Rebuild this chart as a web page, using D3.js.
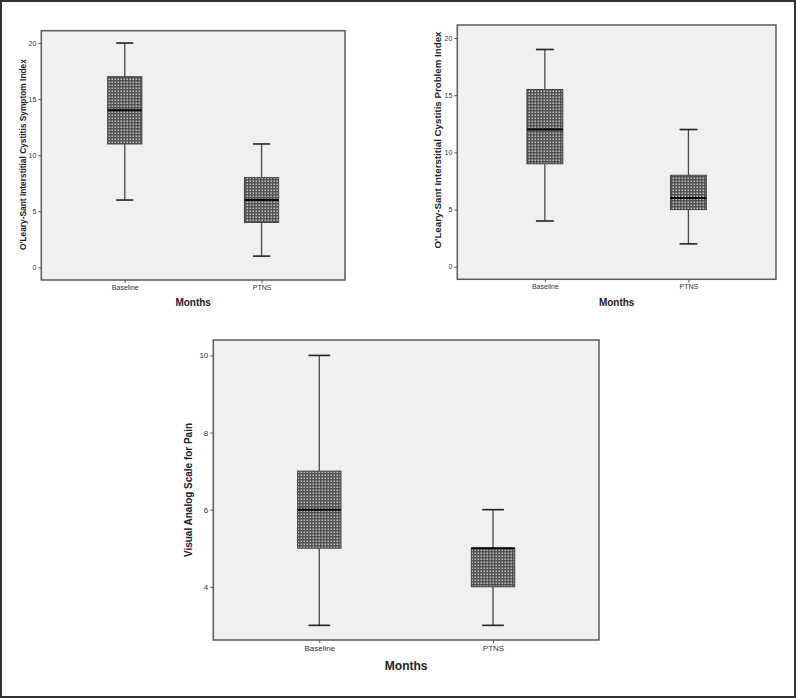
<!DOCTYPE html>
<html>
<head>
<script src="https://d3js.org/d3.v7.min.js"></script>
<style>
    body { margin: 0; background: #fff; }
    * { font-family: "Liberation Sans", Arial, sans-serif; }
    .tick text { fill: #333; }
    .axisTitle { font-weight: bold; fill: #222; }
</style>
</head>
<body>
<svg id="chart" width="796" height="698"></svg>
<script>
    // categories shared by all three panels
    const groups = ["Baseline", "PTNS"];

    // five-number summaries [min, q1, median, q3, max]
    const symptomIndex = [[6, 11, 14, 17, 20], [1, 4, 6, 8, 11]];
    const problemIndex = [[4, 9, 12, 15.5, 19], [2, 5, 6, 8, 12]];
    const painScale = [[3, 5, 6, 7, 10], [3, 4, 5, 5, 6]];

    // tick values
    const indexTicks = [0, 5, 10, 15, 20];
    const painTicks = [4, 6, 8, 10];

    const svg = d3.select("#chart");

    // outer frame
    svg.append("rect")
        .attr("x", 1).attr("y", 1)
        .attr("width", 794).attr("height", 696)
        .attr("fill", "none")
        .attr("stroke", "#333")
        .attr("stroke-width", 2);

    // checkered fill used by the boxes
    const defs = svg.append("defs");
    const pat = defs.append("pattern")
        .attr("id", "checker")
        .attr("width", 3).attr("height", 3)
        .attr("patternUnits", "userSpaceOnUse");
    pat.append("rect").attr("width", 3).attr("height", 3).attr("fill", "#525252");
    pat.append("rect").attr("x", 0.5).attr("y", 0.5).attr("width", 1.5).attr("height", 1.5).attr("fill", "#c4c4c4");

    function drawPanel(p) {
        const g = svg.append("g");

        const y = d3.scaleLinear().domain(p.yDomain).range([p.bottom, p.top]);
        const x = d3.scalePoint().domain(groups).range([p.left, p.right]).padding(0.61);
        const boxW = x.step() * 0.25;

        // plot background
        g.append("rect")
            .attr("x", p.left).attr("y", p.top)
            .attr("width", p.right - p.left).attr("height", p.bottom - p.top)
            .attr("fill", "#f0f0f0")
            .attr("stroke", "#5a5a5a")
            .attr("stroke-width", 1.5);

        // y axis
        const yAxis = d3.axisLeft(y).tickValues(p.ticks).tickSize(3).tickPadding(2);
        const ya = g.append("g")
            .attr("transform", `translate(${p.left},0)`)
            .call(yAxis);
        ya.select(".domain").remove();
        ya.selectAll("text").style("font-size", p.tickFont + "px");
        ya.selectAll("line").attr("stroke", "#555");

        // x axis
        const xAxis = d3.axisBottom(x).tickSize(3).tickPadding(2);
        const xa = g.append("g")
            .attr("transform", `translate(0,${p.bottom})`)
            .call(xAxis);
        xa.select(".domain").remove();
        xa.selectAll("text").style("font-size", p.tickFont + "px");
        xa.selectAll("line").attr("stroke", "#555");

        // boxes
        const boxes = g.selectAll(".box")
            .data(p.data.map((d, i) => ({ group: groups[i], s: d })))
            .join("g")
            .attr("class", "box");

        // whiskers
        boxes.append("line")
            .attr("x1", d => x(d.group)).attr("x2", d => x(d.group))
            .attr("y1", d => y(d.s[0])).attr("y2", d => y(d.s[1]))
            .attr("stroke", "#4a4a4a").attr("stroke-width", 1.3);
        boxes.append("line")
            .attr("x1", d => x(d.group)).attr("x2", d => x(d.group))
            .attr("y1", d => y(d.s[3])).attr("y2", d => y(d.s[4]))
            .attr("stroke", "#4a4a4a").attr("stroke-width", 1.3);

        // caps
        [0, 4].forEach(k => {
            boxes.append("line")
                .attr("x1", d => x(d.group) - boxW / 4).attr("x2", d => x(d.group) + boxW / 4)
                .attr("y1", d => y(d.s[k])).attr("y2", d => y(d.s[k]))
                .attr("stroke", "#222").attr("stroke-width", 1.6);
        });

        // box body
        boxes.append("rect")
            .attr("x", d => x(d.group) - boxW / 2)
            .attr("width", boxW)
            .attr("y", d => y(d.s[3]))
            .attr("height", d => y(d.s[1]) - y(d.s[3]))
            .attr("fill", "url(#checker)")
            .attr("stroke", "#444")
            .attr("stroke-width", 1);

        // median
        boxes.append("line")
            .attr("x1", d => x(d.group) - boxW / 2).attr("x2", d => x(d.group) + boxW / 2)
            .attr("y1", d => y(d.s[2])).attr("y2", d => y(d.s[2]))
            .attr("stroke", "#000").attr("stroke-width", 2);

        // axis titles
        g.append("text")
            .attr("class", "axisTitle")
            .attr("x", (p.left + p.right) / 2)
            .attr("y", p.monthsY)
            .attr("text-anchor", "middle")
            .style("font-size", p.titleFont + "px")
            .text("Months");

        g.append("text")
            .attr("class", "axisTitle")
            .attr("transform", `translate(${p.yLabelX},${p.yLabelMid}) rotate(-90)`)
            .attr("text-anchor", "middle")
            .attr("textLength", p.yLabelLen)
            .attr("lengthAdjust", "spacingAndGlyphs")
            .style("font-size", p.yLabelFont + "px")
            .text(p.yLabel);
    }

    drawPanel({
        data: symptomIndex, ticks: indexTicks, yDomain: [-1.13, 21.1],
        left: 41.3, right: 345, top: 30.7, bottom: 280,
        tickFont: 7, titleFont: 10, monthsY: 306,
        yLabel: "O'Leary-Sant Interstitial Cystitis Symptom Index",
        yLabelX: 25.5, yLabelMid: 154.6, yLabelLen: 191, yLabelFont: 8.5
    });

    drawPanel({
        data: problemIndex, ticks: indexTicks, yDomain: [-1.1, 21.14],
        left: 457.3, right: 776, top: 25, bottom: 279.3,
        tickFont: 7, titleFont: 10, monthsY: 306,
        yLabel: "O'Leary-Sant Interstitial Cystitis Problem Index",
        yLabelX: 441, yLabelMid: 140, yLabelLen: 217, yLabelFont: 9.5
    });

    drawPanel({
        data: painScale, ticks: painTicks, yDomain: [2.62, 10.4],
        left: 213.3, right: 599, top: 340, bottom: 640,
        tickFont: 8, titleFont: 12, monthsY: 670,
        yLabel: "Visual Analog Scale for Pain",
        yLabelX: 192, yLabelMid: 490, yLabelLen: 134, yLabelFont: 11
    });
</script>
</body>
</html>
